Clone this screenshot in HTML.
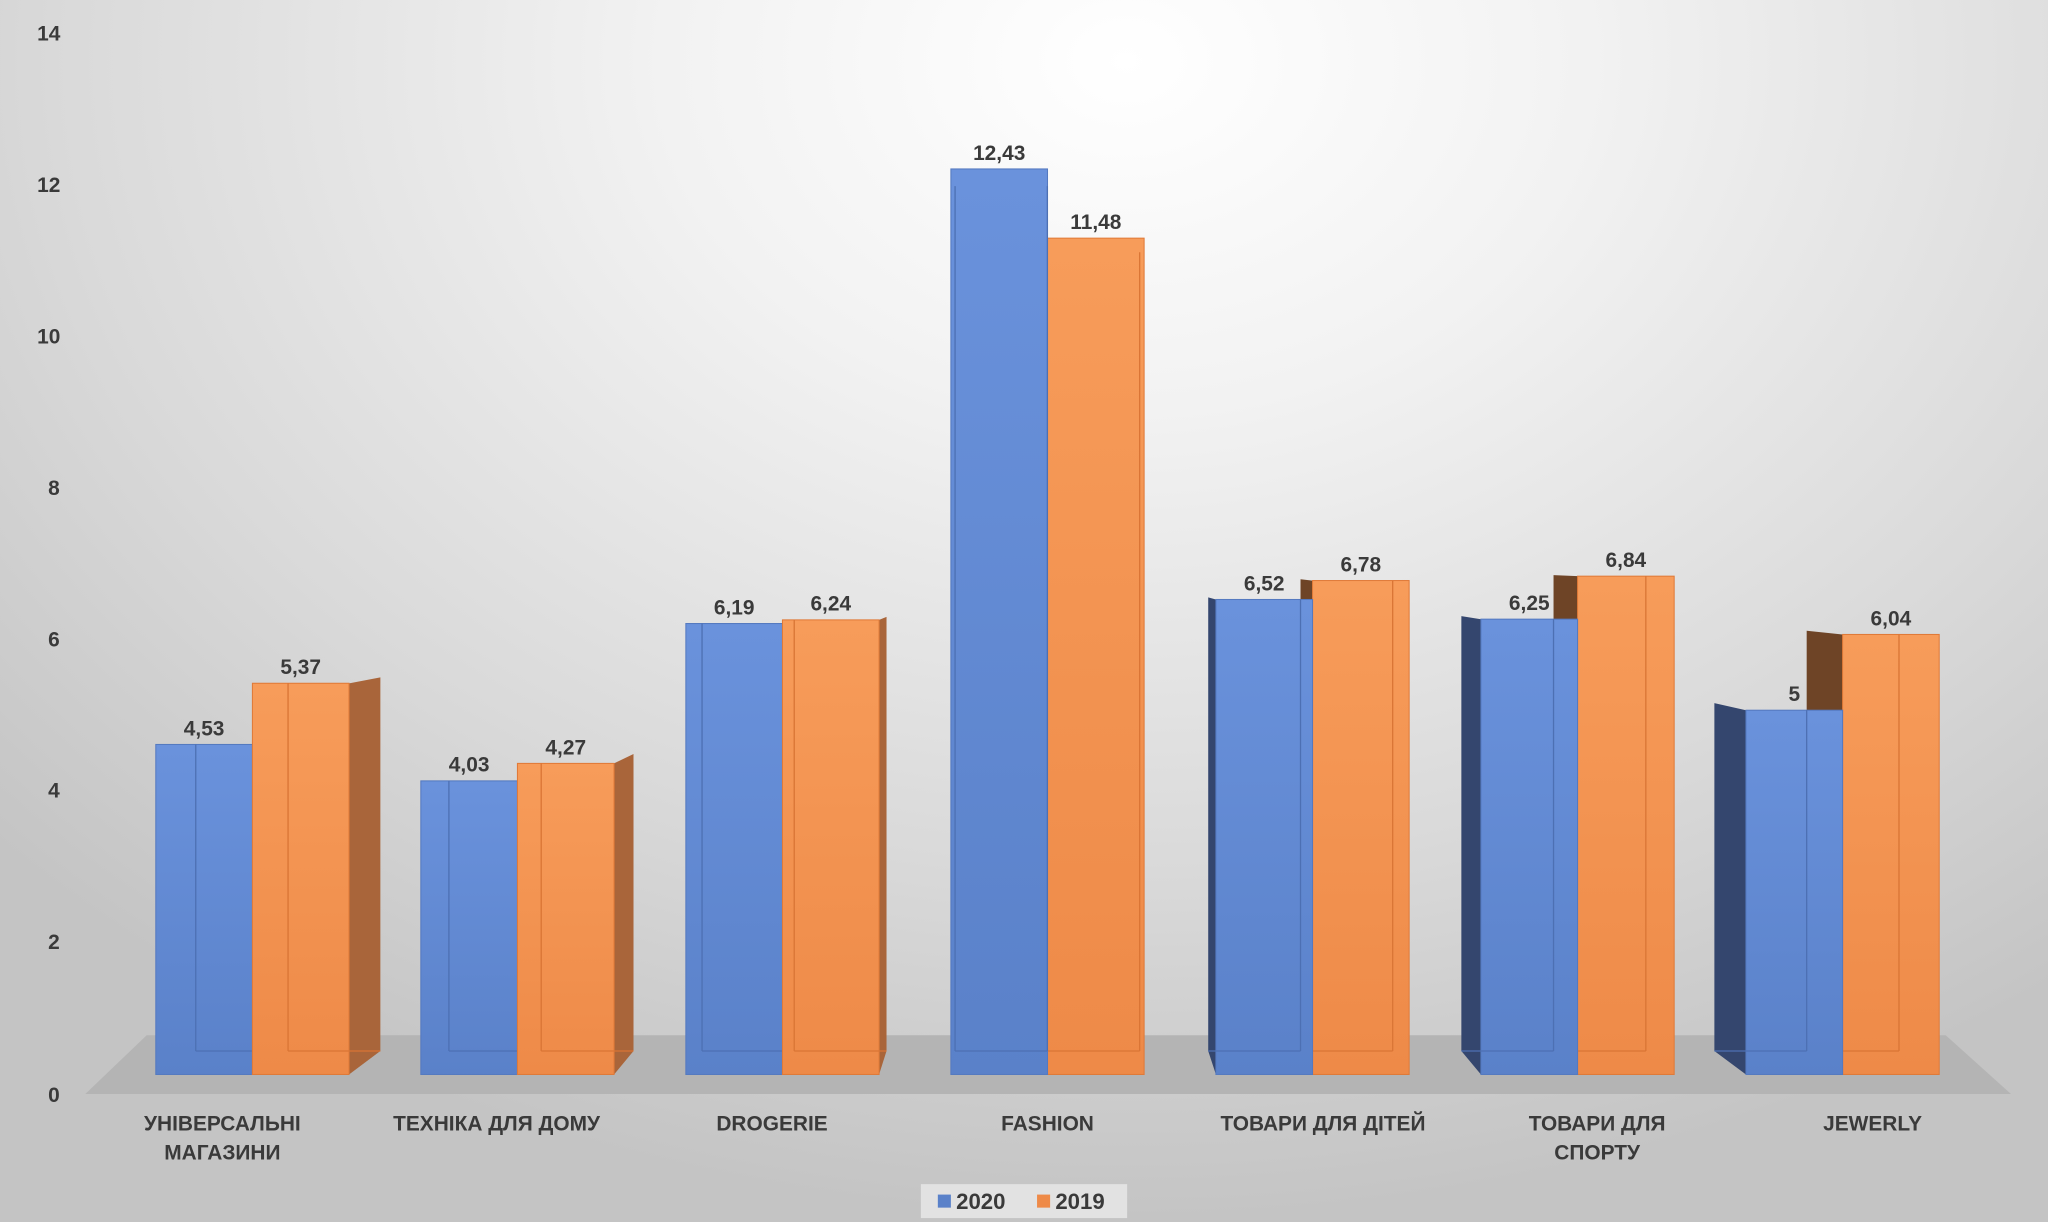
<!DOCTYPE html>
<html><head><meta charset="utf-8"><style>
html,body{margin:0;padding:0;width:2048px;height:1222px;overflow:hidden}
body{background:radial-gradient(ellipse 75% 95% at 55% 5%,#ffffff 0%,#f2f2f2 30%,#d9d9d9 70%,#c4c4c4 100%)}
svg{display:block}
text{font-family:"Liberation Sans",sans-serif;font-weight:bold;fill:#3a3a3a}
</style></head><body>
<svg width="2048" height="1222" viewBox="0 0 1568 936" xmlns="http://www.w3.org/2000/svg">
<defs>
<linearGradient id="gb" x1="0" y1="0" x2="0" y2="1"><stop offset="0" stop-color="#6a92dc"/><stop offset="1" stop-color="#5a81c9"/></linearGradient>
<linearGradient id="go" x1="0" y1="0" x2="0" y2="1"><stop offset="0" stop-color="#f79c5a"/><stop offset="1" stop-color="#ee8a48"/></linearGradient>
</defs>
<polygon points="65,838 1540,838 1490,793 112,793" fill="#b4b4b4"/>
<g id="bars"></g>
<g font-size="16" text-anchor="middle">
<text x="37" y="31">14</text><text x="37" y="147">12</text><text x="37" y="263">10</text><text x="41" y="379">8</text><text x="41" y="495">6</text><text x="41" y="611">4</text><text x="41" y="727">2</text><text x="41" y="844">0</text>
<text x="170" y="866">УНІВЕРСАЛЬНІ</text><text x="170" y="888">МАГАЗИНИ</text>
<text x="380" y="866">ТЕХНІКА ДЛЯ ДОМУ</text>
<text x="591" y="866">DROGERIE</text>
<text x="802" y="866">FASHION</text>
<text x="1013" y="866">ТОВАРИ ДЛЯ ДІТЕЙ</text>
<text x="1223" y="866">ТОВАРИ ДЛЯ</text><text x="1223" y="888">СПОРТУ</text>
<text x="1434" y="866">JEWERLY</text>
</g>
<g id="vals" font-size="16" text-anchor="middle"></g>
<rect x="705" y="907" width="158" height="26" fill="#e2e2e2"/>
<rect x="718" y="915" width="10" height="10" fill="#5a81c9"/><text x="732" y="926" font-size="17">2020</text>
<rect x="794" y="915" width="10" height="10" fill="#ee8a48"/><text x="808" y="926" font-size="17">2019</text>
</svg>
<script>
var data=[[4.53,5.37],[4.03,4.27],[6.19,6.24],[12.43,11.48],[6.52,6.78],[6.25,6.84],[5,6.04]];
var lbl=[["4,53","5,37"],["4,03","4,27"],["6,19","6,24"],["12,43","11,48"],["6,52","6,78"],["6,25","6,84"],["5","6,04"]];
var VX=800,VY=423,K=0.045,B=823,S=55.8,W=74;
var bars=[];
data.forEach(function(d,i){var x0=119+203*i;
 bars.push({x:x0,v:d[0],c:0,l:lbl[i][0]});bars.push({x:x0+W,v:d[1],c:1,l:lbl[i][1]});});
bars.sort(function(a,b){return Math.abs(b.x+W/2-VX)-Math.abs(a.x+W/2-VX)});
function bk(p){return [p[0]+(VX-p[0])*K,p[1]+(VY-p[1])*K]}
function poly(pts,f){return '<polygon points="'+pts.map(function(p){return p[0].toFixed(1)+','+p[1].toFixed(1)}).join(' ')+'" fill="'+f+'"/>'}
function ln(a,b,c){return '<line x1="'+a[0].toFixed(1)+'" y1="'+a[1].toFixed(1)+'" x2="'+b[0].toFixed(1)+'" y2="'+b[1].toFixed(1)+'" stroke="'+c+'" stroke-width="1"/>'}
var h='',t='';
bars.forEach(function(b){
 var top=B-b.v*S,L=b.x,R=b.x+W;
 var fl=[L,top],fr=[R,top],bl=[L,B],br=[R,B];
 var side=b.c?(L+W/2<VX?'#a9653a':'#6e4426'):(L+W/2<VX?'#4a6db0':'#34466e');
 if(L+W/2<VX-40){h+=poly([fr,bk(fr),bk(br),br],side);}
 else if(L+W/2>VX+40){h+=poly([fl,bk(fl),bk(bl),bl],side);}
 if(top<VY){h+=poly([fl,fr,bk(fr),bk(fl)],b.c?'#c8733c':'#4a70b8');}
 h+='<rect x="'+L+'" y="'+top+'" width="'+W+'" height="'+(B-top)+'" fill="url(#'+(b.c?'go':'gb')+')" stroke="'+(b.c?'#e07a38':'#5479c0')+'" stroke-width="0.8"/>';
 var ec=b.c?'#d97535':'#4d70b3';
 var bb=bk(bl),bb2=bk(br),bt=bk(fl),bt2=bk(fr);
 h+=ln(bb,bb2,ec);
 if(bt[0]>L&&bt[0]<R)h+=ln(bb,[bt[0],Math.max(bt[1],top)],ec);
 if(bt2[0]>L&&bt2[0]<R)h+=ln(bb2,[bt2[0],Math.max(bt2[1],top)],ec);
 t+='<text x="'+(L+W/2)+'" y="'+(top-7)+'">'+b.l+'</text>';
});
document.getElementById('bars').innerHTML=h;
document.getElementById('vals').innerHTML=t;
</script>
</body></html>
